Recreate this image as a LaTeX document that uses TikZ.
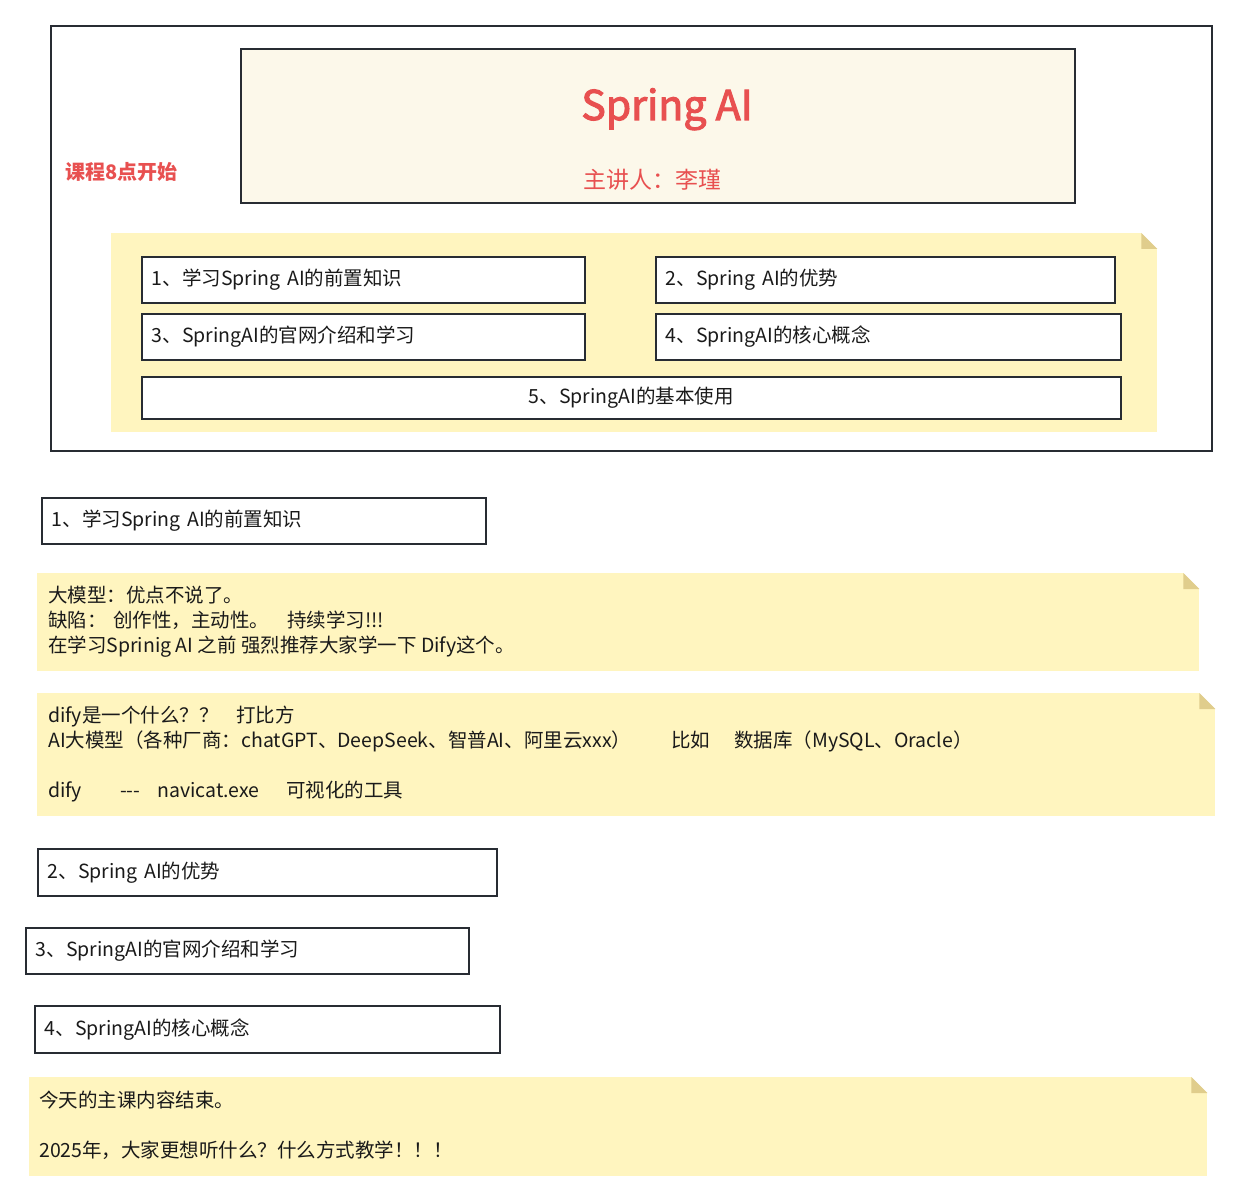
\documentclass[tikz,border=0pt]{standalone}
\usepackage{fontspec}
\setmainfont{Noto Sans CJK SC}
\newfontfamily\titlefont{Noto Sans CJK SC}[FakeBold=2.5]
\definecolor{linecol}{HTML}{282C33}
\definecolor{titlefill}{HTML}{FCF8EA}
\definecolor{redcol}{HTML}{E85050}
\definecolor{notefill}{HTML}{FFF5BF}
\definecolor{foldcol}{HTML}{E0CD8C}
\definecolor{txtcol}{HTML}{1A1A1A}
\newcommand\bodyfont{\fontsize{19.5pt}{25pt}\selectfont}
\newcommand\notefold[1]{%
  \fill[white] (#1.north east) -- ++(-16,0) -- ++(16,16) -- cycle;
  \fill[foldcol] (#1.north east) ++(-16,0) -- ++(0,16) -- ++(16,0) -- cycle;}
\begin{document}
\begin{tikzpicture}[x=1pt,y=-1pt,
  every node/.style={text=txtcol},
  itembox/.style={draw=linecol, line width=1.8pt, fill=white, anchor=north west,
    inner xsep=10pt, inner ysep=0pt, minimum height=46pt, align=left, font=\bodyfont},
  notebody/.style={fill=notefill, anchor=north west, inner sep=0pt},
  txtline/.style={anchor=base west, inner sep=0pt, font=\bodyfont},
  redtext/.style={text=redcol, inner sep=0pt},
]
\useasboundingbox[fill=white] (0,0) rectangle (1240,1201);

% ---------- top frame ----------
\node[draw=linecol, line width=1.8pt, anchor=north west, minimum width=1161pt,
  minimum height=425pt, inner sep=0pt] (frame) at (50,25) {};

\node[draw=linecol, line width=1.8pt, fill=titlefill, anchor=north west,
  minimum width=834pt, minimum height=154pt, inner sep=0pt] (title) at (240,48) {};
\node[redtext, anchor=base, font=\titlefont\fontsize{41pt}{48pt}\selectfont] (titletext) at (667,120) {Spring AI};
\node[redtext, anchor=base, font=\fontsize{23pt}{28pt}\selectfont] (speaker) at (652,189) {主讲人：李瑾};
\node[redtext, anchor=base west, font=\fontsize{20pt}{24pt}\selectfont\bfseries] (start) at (65,180) {课程8点开始};

\node[notebody, minimum width=1046pt, minimum height=199pt] (note0) at (111,233) {};
\notefold{note0}

\node[itembox, text width=423pt] (t1) at (141,256) {1、学习Spring AI的前置知识};
\node[itembox, text width=439pt] (t2) at (655,256) {2、Spring AI的优势};
\node[itembox, text width=423pt] (t3) at (141,313) {3、SpringAI的官网介绍和学习};
\node[itembox, text width=445pt] (t4) at (655,313) {4、SpringAI的核心概念};
\node[itembox, text width=959pt, align=center, minimum height=42pt] (t5) at (141,376) {5、SpringAI的基本使用};

% ---------- lower part ----------
\node[itembox, text width=424pt] (b1) at (41,497) {1、学习Spring AI的前置知识};

\node[notebody, minimum width=1162pt, minimum height=98pt] (note1) at (37,573) {};
\notefold{note1}
\node[txtline] (n1a) at (48,602) {大模型：优点不说了。};
\node[txtline] (n1b) at (48,627) {缺陷：};
\node[txtline] (n1c) at (113,627) {创作性，主动性。};
\node[txtline] (n1d) at (287,627) {持续学习!!!};
\node[txtline] (n1e) at (48,652) {在学习Sprinig AI 之前 强烈推荐大家学一下 Dify这个。};

\node[notebody, minimum width=1178pt, minimum height=123pt] (note2) at (37,693) {};
\notefold{note2}
\node[txtline] (n2a) at (48,722) {dify是一个什么？？};
\node[txtline] (n2b) at (236,722) {打比方};
\node[txtline] (n2c) at (48,747) {AI大模型（各种厂商：chatGPT、DeepSeek、智普AI、阿里云xxx）};
\node[txtline] (n2d) at (671,747) {比如};
\node[txtline] (n2e) at (734,747) {数据库（MySQL、Oracle）};
\node[txtline] (n2f) at (48,797) {dify};
\node[txtline] (n2g) at (120,797) {-{}-{}-};
\node[txtline] (n2h) at (157,797) {navicat.exe};
\node[txtline] (n2i) at (286,797) {可视化的工具};

\node[itembox, text width=439pt, minimum height=47pt] (b2) at (37,848) {2、Spring AI的优势};
\node[itembox, text width=423pt] (b3) at (25,927) {3、SpringAI的官网介绍和学习};
\node[itembox, text width=445pt, minimum height=47pt] (b4) at (34,1005) {4、SpringAI的核心概念};

\node[notebody, minimum width=1178pt, minimum height=99pt] (note3) at (29,1077) {};
\notefold{note3}
\node[txtline] (n3a) at (39,1107) {今天的主课内容结束。};
\node[txtline] (n3b) at (39,1157) {2025年，大家更想听什么？什么方式教学！！！};
\end{tikzpicture}
\end{document}
